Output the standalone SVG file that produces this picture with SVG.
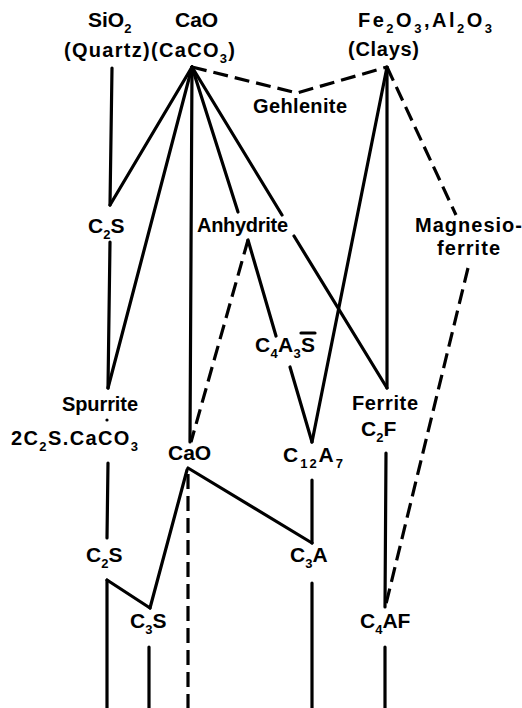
<svg xmlns="http://www.w3.org/2000/svg" width="522" height="708" viewBox="0 0 522 708">
<style>
text{font-family:"Liberation Sans",Arial,sans-serif;font-weight:bold;font-size:20px;fill:#000}
.f{font-size:21px}
.s{font-size:13px}
.ln{fill:none;stroke:#000;stroke-width:3.2;stroke-linecap:round;stroke-linejoin:round}
.d{stroke-dasharray:15 7;stroke-linecap:butt}
</style>
<rect width="522" height="708" fill="#fff"/>
<g id="connectors">
<path class="ln d" d="M192,67 L297,93 L387,67"/>
<path class="ln" d="M112,68 L110,205"/>
<path class="ln" d="M192,67 L110,205"/>
<path class="ln" d="M192,67 L108,388"/>
<path class="ln" d="M192,67 L190,442"/>
<path class="ln" d="M192,67 L238,212"/>
<path class="ln" d="M192,67 L282,215"/>
<path class="ln" d="M294,236 L387,388"/>
<path class="ln" d="M387,67 L387,388"/>
<path class="ln" d="M387,67 L312,442"/>
<path class="ln d" d="M387,67 L456,215"/>
<path class="ln d" d="M468,268 L386,604"/>
<path class="ln" d="M110,242 L108,388"/>
<path class="ln d" d="M248,240 L191,442"/>
<path class="ln" d="M248,240 L276,336"/>
<path class="ln" d="M290,367 L312,442"/>
<path class="ln" d="M108,463 L107,538"/>
<path class="ln" d="M188,468 L312,543"/>
<path class="ln" d="M187,470 L150,608"/>
<path class="ln d" d="M188,474 L188,708"/>
<path class="ln" d="M312,480 L312,543"/>
<path class="ln" d="M312,583 L312,708"/>
<path class="ln" d="M107,580 L107,708"/>
<path class="ln" d="M107,580 L150,608"/>
<path class="ln" d="M149,647 L149,708"/>
<path class="ln" d="M386,453 L385,607"/>
<path class="ln" d="M385,647 L385,708"/>
<circle cx="107" cy="420" r="1.6" fill="#000"/>
</g>
<g id="sio2"><text class="f" x="88" y="27">SiO<tspan class="s" dy="6">2</tspan></text></g>
<g id="cao-top"><text class="f" x="175" y="27">CaO</text></g>
<g id="raw-names"><text x="64" y="57" textLength="171">(Quartz)(CaCO<tspan class="s" dy="6">3</tspan><tspan dy="-6">)</tspan></text></g>
<g id="clays"><text x="358" y="27" textLength="134">Fe<tspan class="s" dy="6">2</tspan><tspan dy="-6">O</tspan><tspan class="s" dy="6">3</tspan><tspan dy="-6">,Al</tspan><tspan class="s" dy="6">2</tspan><tspan dy="-6">O</tspan><tspan class="s" dy="6">3</tspan></text>
<text x="348" y="56" textLength="71">(Clays)</text></g>
<g id="gehlenite"><text x="253" y="113" textLength="94">Gehlenite</text></g>
<g id="c2s-upper"><text class="f" x="88" y="233">C<tspan class="s" dy="6">2</tspan><tspan dy="-6">S</tspan></text></g>
<g id="anhydrite"><text x="197" y="232" textLength="91">Anhydrite</text></g>
<g id="magnesioferrite"><text x="415" y="232" textLength="107">Magnesio-</text><text x="437" y="255" textLength="63">ferrite</text></g>
<g id="c4a3s"><text class="f" x="255" y="352" textLength="60">C<tspan class="s" dy="6">4</tspan><tspan dy="-6">A</tspan><tspan class="s" dy="6">3</tspan><tspan dy="-6">S</tspan></text>
<path class="ln" d="M301,333 L315,333" stroke-width="2.2"/></g>
<g id="spurrite"><text x="62" y="411" textLength="76">Spurrite</text><text x="11" y="445" textLength="127">2C<tspan class="s" dy="6">2</tspan><tspan dy="-6">S.CaCO</tspan><tspan class="s" dy="6">3</tspan></text></g>
<g id="ferrite"><text x="352" y="410" textLength="66">Ferrite</text><text class="f" x="361" y="436">C<tspan class="s" dy="6">2</tspan><tspan dy="-6">F</tspan></text></g>
<g id="cao-mid"><text class="f" x="168" y="460">CaO</text></g>
<g id="c12a7"><text class="f" x="283" y="462" textLength="60">C<tspan class="s" dy="6">12</tspan><tspan dy="-6">A</tspan><tspan class="s" dy="6">7</tspan></text></g>
<g id="c2s-lower"><text class="f" x="86" y="562">C<tspan class="s" dy="6">2</tspan><tspan dy="-6">S</tspan></text></g>
<g id="c3a"><text class="f" x="290" y="562">C<tspan class="s" dy="6">3</tspan><tspan dy="-6">A</tspan></text></g>
<g id="c3s"><text class="f" x="130" y="628">C<tspan class="s" dy="6">3</tspan><tspan dy="-6">S</tspan></text></g>
<g id="c4af"><text class="f" x="360" y="628">C<tspan class="s" dy="6">4</tspan><tspan dy="-6">AF</tspan></text></g>
</svg>
